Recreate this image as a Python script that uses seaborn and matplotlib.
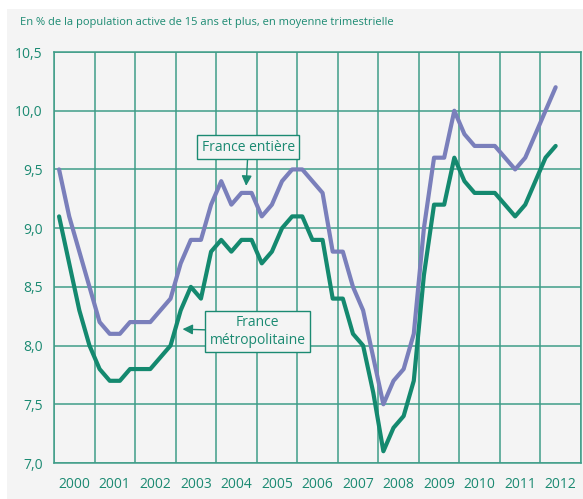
import numpy as np
import pandas as pd
import seaborn as sns
import matplotlib.pyplot as plt
from matplotlib.patches import Rectangle
from matplotlib.ticker import FuncFormatter

sns.set_theme(style="white")
plt.rcParams['font.family'] = ['Open Sans', 'DejaVu Sans']

teal = '#1b8a72'
grid_col = '#3f9d88'
bg = '#f4f4f4'

years = list(range(2000, 2013))
quarters = [1, 2, 3, 4]

# taux de chômage trimestriel, 2000T1 -> 2012T2
france_entiere = [9.5, 9.1, 8.8, 8.5,
                  8.2, 8.1, 8.1, 8.2,
                  8.2, 8.2, 8.3, 8.4,
                  8.7, 8.9, 8.9, 9.2,
                  9.4, 9.2, 9.3, 9.3,
                  9.1, 9.2, 9.4, 9.5,
                  9.5, 9.4, 9.3, 8.8,
                  8.8, 8.5, 8.3, 7.9,
                  7.5, 7.7, 7.8, 8.1,
                  9.0, 9.6, 9.6, 10.0,
                  9.8, 9.7, 9.7, 9.7,
                  9.6, 9.5, 9.6, 9.8,
                  10.0, 10.2]
france_metro = [9.1, 8.7, 8.3, 8.0,
                7.8, 7.7, 7.7, 7.8,
                7.8, 7.8, 7.9, 8.0,
                8.3, 8.5, 8.4, 8.8,
                8.9, 8.8, 8.9, 8.9,
                8.7, 8.8, 9.0, 9.1,
                9.1, 8.9, 8.9, 8.4,
                8.4, 8.1, 8.0, 7.6,
                7.1, 7.3, 7.4, 7.7,
                8.6, 9.2, 9.2, 9.6,
                9.4, 9.3, 9.3, 9.3,
                9.2, 9.1, 9.2, 9.4,
                9.6, 9.7]

# position of each quarter on a decimal-year axis
t = [y + (q - 0.5) / 4 for y in years for q in quarters][:len(france_entiere)]

df = pd.DataFrame({'t': t, 'entiere': france_entiere, 'metro': france_metro})

fig = plt.figure(figsize=(5.83, 4.99), dpi=100, facecolor='white')
fig.patches.append(Rectangle((7 / 583, 0), 1, 1 - 9 / 499, transform=fig.transFigure,
                             facecolor=bg, edgecolor='none', zorder=-1))
ax = fig.add_axes([54 / 583, 1 - 463 / 499, 527 / 583, 411 / 499])
ax.set_zorder(1)
ax.set_facecolor(bg)

sns.lineplot(data=df, x='t', y='entiere', color='#7a7fbb', linewidth=3.0, ax=ax, zorder=3)
sns.lineplot(data=df, x='t', y='metro', color='#14896f', linewidth=3.0, ax=ax, zorder=4)

ax.set_xlim(2000, 2013)
ax.set_ylim(7.0, 10.5)
ax.set_xticks([y + 0.5 for y in years])
ax.set_xticklabels([str(y) for y in years])
ax.set_xticks(range(2000, 2014), minor=True)
ax.set_yticks(np.arange(7.0, 10.51, 0.5))
ax.yaxis.set_major_formatter(FuncFormatter(lambda v, p: f'{v:.1f}'.replace('.', ',')))
ax.grid(axis='y', which='major', color=grid_col, linewidth=1.1)
ax.grid(axis='x', which='minor', color=grid_col, linewidth=1.1)
ax.tick_params(axis='both', which='both', length=0, colors=teal, labelsize=10)
ax.tick_params(axis='x', pad=10)
ax.tick_params(axis='y', pad=8)
for s in ax.spines.values():
    s.set_color(grid_col)
    s.set_linewidth(1.1)
ax.set_xlabel('')
ax.set_ylabel('')

fig.text(20 / 583, 1 - 22 / 499, 'En % de la population active de 15 ans et plus, en moyenne trimestrielle',
         color=teal, fontsize=8.0, va='center', ha='left')

box = dict(boxstyle='square,pad=0.3', facecolor=bg, edgecolor=teal, linewidth=1.0)
arrow = dict(arrowstyle='-|>,head_length=0.6,head_width=0.3', color=teal, linewidth=1.0,
             shrinkA=0, shrinkB=0)
ax.annotate('France entière', xy=(2004.74, 9.36), xytext=(2004.79, 9.69),
            ha='center', va='center', color=teal, fontsize=10, bbox=box, arrowprops=arrow, zorder=6)
ax.annotate('France\nmétropolitaine', xy=(2003.17, 8.14), xytext=(2005.02, 8.12),
            ha='center', va='center', color=teal, fontsize=10, linespacing=1.2,
            bbox=box, arrowprops=arrow, zorder=6)

plt.savefig('out.png', dpi=100, facecolor='white')
